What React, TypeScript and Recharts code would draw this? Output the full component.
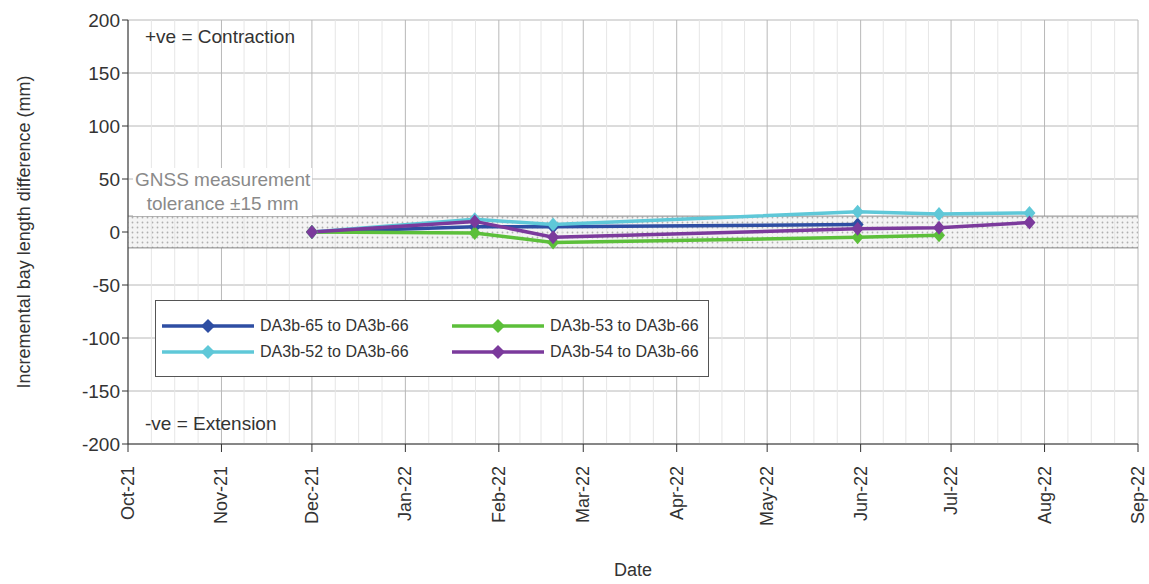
import { LineChart, Line, XAxis, YAxis, CartesianGrid, ReferenceArea, ReferenceLine } from 'recharts'

const surveyDates = ['2021-12-01', '2022-01-24', '2022-02-19', '2022-05-31', '2022-06-27', '2022-07-27']
const da65 = [0, 5, 5, 7, null, null]
const da52 = [0, 12, 7, 19, 17, 18]
const da53 = [0, -1, -10, -5, -3, null]
const da54 = [0, 10, -5, 3, 4, 9]
const monthTicks = ['2021-10-01', '2021-11-01', '2021-12-01', '2022-01-01', '2022-02-01', '2022-03-01', '2022-04-01', '2022-05-01', '2022-06-01', '2022-07-01', '2022-08-01', '2022-09-01']
const monthLabels = ['Oct-21', 'Nov-21', 'Dec-21', 'Jan-22', 'Feb-22', 'Mar-22', 'Apr-22', 'May-22', 'Jun-22', 'Jul-22', 'Aug-22', 'Sep-22']
const yTicks = [-200, -150, -100, -50, 0, 50, 100, 150, 200]

const series = [
  { key: 'd65', name: 'DA3b-65 to DA3b-66', color: '#2e4ea3', values: da65 },
  { key: 'd52', name: 'DA3b-52 to DA3b-66', color: '#5fc8d8', values: da52 },
  { key: 'd53', name: 'DA3b-53 to DA3b-66', color: '#5cbf3a', values: da53 },
  { key: 'd54', name: 'DA3b-54 to DA3b-66', color: '#7b3a9c', values: da54 },
]

const t = (s: string) => Date.parse(s + 'T00:00:00Z')
const ticks = monthTicks.map(t)
const labelOf = (v: number) => monthLabels[ticks.indexOf(v)] ?? ''
const minorLines: number[] = []
for (let i = 0; i < ticks.length - 1; i++) {
  const step = (ticks[i + 1] - ticks[i]) / 4
  for (let k = 1; k < 4; k++) minorLines.push(ticks[i] + step * k)
}

const data = surveyDates.map((d, i) => {
  const row: any = { x: t(d) }
  series.forEach((s) => (row[s.key] = s.values[i]))
  return row
})

const Diamond = (props: any) => {
  const { cx, cy, stroke } = props
  if (cy == null || isNaN(cy)) return null
  return <path d={`M${cx},${cy - 7}L${cx + 6},${cy}L${cx},${cy + 7}L${cx - 6},${cy}Z`} fill={stroke} />
}

const XTick = (props: any) => {
  const { x, y, payload } = props
  return (
    <text x={x} y={y + 12} transform={`rotate(-90 ${x} ${y + 12})`} textAnchor="end" dominantBaseline="central" fontSize={18} fill="#333">
      {labelOf(payload.value)}
    </text>
  )
}

export default function App() {
  return (
    <div style={{ position: 'fixed', left: 0, top: 0, width: 1149, height: 584, background: '#fff', fontFamily: 'Liberation Sans, Arial, sans-serif' }}>
      <LineChart width={1149} height={584} data={data} margin={{ top: 20, right: 11, left: 0, bottom: 20 }}>
        <defs>
          <pattern id="dots" width="5" height="5" patternUnits="userSpaceOnUse">
            <rect width="5" height="5" fill="#f4f4f4" />
            <circle cx="2.5" cy="2.5" r="0.9" fill="#b0b0b0" />
          </pattern>
        </defs>
        {minorLines.map((v) => (
          <ReferenceLine key={v} x={v} stroke="#e6e6e6" strokeWidth={1} />
        ))}
        <CartesianGrid stroke="#b8b8b8" verticalValues={ticks} />
        <ReferenceArea y1={-15} y2={15} fill="url(#dots)" fillOpacity={1} stroke="none" />
        <ReferenceLine y={15} stroke="#888" />
        <ReferenceLine y={-15} stroke="#888" />
        <XAxis
          dataKey="x"
          type="number"
          scale="time"
          domain={[ticks[0], ticks[ticks.length - 1]]}
          ticks={ticks}
          interval={0}
          tick={<XTick />}
          height={120}
          stroke="#333"
          tickSize={8}
          label={{ value: 'Date', position: 'insideBottom', offset: -12, fontSize: 18, fill: '#333' }}
        />
        <YAxis
          type="number"
          domain={[-200, 200]}
          ticks={yTicks}
          width={128}
          stroke="#333"
          tickSize={6}
          tick={{ fontSize: 19, fill: '#333' }}
          label={{ value: 'Incremental bay length difference (mm)', angle: -90, position: 'insideLeft', offset: 24, style: { textAnchor: 'middle', fontSize: 18, fill: '#333' } }}
        />
        {series.map((s) => (
          <Line key={s.key} dataKey={s.key} name={s.name} stroke={s.color} strokeWidth={3.5} dot={<Diamond />} activeDot={false} connectNulls={false} isAnimationActive={false} />
        ))}
      </LineChart>
      <div style={{ position: 'absolute', left: 145, top: 26, fontSize: 19, color: '#333' }}>+ve = Contraction</div>
      <div style={{ position: 'absolute', left: 145, top: 413, fontSize: 19, color: '#333' }}>-ve = Extension</div>
      <div style={{ position: 'absolute', left: 133, top: 168, fontSize: 19, color: '#8a8a8a', background: '#fff', lineHeight: '24px', textAlign: 'center', padding: '0 2px' }}>
        GNSS measurement<br />tolerance ±15 mm
      </div>
      <div style={{ position: 'absolute', left: 155, top: 300, width: 552, height: 75, border: '1px solid #555', background: '#fff', display: 'grid', gridTemplateColumns: '290px 260px', alignContent: 'center', rowGap: 8 }}>
        {[series[0], series[2], series[1], series[3]].map((s) => (
          <div key={s.key} style={{ display: 'flex', alignItems: 'center', fontSize: 16, color: '#333' }}>
            <svg width={92} height={16} style={{ marginLeft: 6, marginRight: 6 }}>
              <line x1={0} y1={8} x2={92} y2={8} stroke={s.color} strokeWidth={3.5} />
              <path d="M46,1L53,8L46,15L39,8Z" fill={s.color} />
            </svg>
            {s.name}
          </div>
        ))}
      </div>
    </div>
  )
}
